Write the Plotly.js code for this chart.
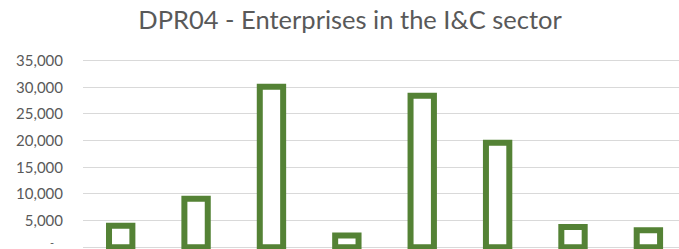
<!DOCTYPE html>
<html>
<head>
<meta charset="utf-8">
<script src="https://cdn.plot.ly/plotly-3.0.1.min.js"></script>
<style>html,body{margin:0;padding:0;background:#fff;}#chart{width:679px;height:249px;}</style>
</head>
<body>
<div id="chart"></div>
<script>
// Category labels are cropped out of the reference; placeholders keep order.
const categories = ["C1", "C2", "C3", "C4", "C5", "C6", "C7", "C8"];
const enterprises = [4050, 9100, 30100, 2200, 28400, 19600, 3800, 3200];
const yTickVals = [5000, 10000, 15000, 20000, 25000, 30000, 35000];
const yTickText = ["5,000", "10,000", "15,000", "20,000", "25,000", "30,000", "35,000"];
const zeroTickText = "-";
const chartTitle = "DPR04 - Enterprises in the I&C sector";

const trace = {
  type: "bar",
  x: categories,
  y: enterprises,
  marker: { color: "#ffffff", line: { color: "#548235", width: 6 } },
  hoverinfo: "none"
};

const layout = {
  width: 679,
  height: 249,
  margin: { l: 83, r: 0, t: 50, b: 0, pad: 0 },
  paper_bgcolor: "#ffffff",
  plot_bgcolor: "#ffffff",
  showlegend: false,
  bargap: 0.69,
  title: {
    text: chartTitle,
    font: { family: "Lato, 'Open Sans', sans-serif", size: 25.5, color: "#595959" },
    xref: "container", x: 0.5155, xanchor: "center",
    yref: "container", y: 0.92, yanchor: "middle"
  },
  xaxis: {
    type: "category",
    range: [-0.5, 7.406],
    showticklabels: false,
    showgrid: false,
    zeroline: false,
    showline: false,
    ticks: ""
  },
  yaxis: {
    range: [-319, 36994],
    tickvals: [0].concat(yTickVals),
    ticktext: [""].concat(yTickText),
    showgrid: true,
    gridcolor: "#d9d9d9",
    gridwidth: 1,
    zeroline: false,
    showline: false,
    ticks: "",
    ticklabelstandoff: 19,
    tickfont: { family: "Lato, 'Open Sans', sans-serif", size: 15, color: "#595959" }
  },
  annotations: [{
    text: zeroTickText,
    xref: "paper", x: 0, xanchor: "right", xshift: -28,
    yref: "y", y: 0, yanchor: "middle", yshift: 5,
    showarrow: false, borderpad: 0,
    font: { family: "Lato, 'Open Sans', sans-serif", size: 11, color: "#595959" }
  }]
};

Plotly.newPlot("chart", [trace], layout, { staticPlot: true, displayModeBar: false });
</script>
</body>
</html>
